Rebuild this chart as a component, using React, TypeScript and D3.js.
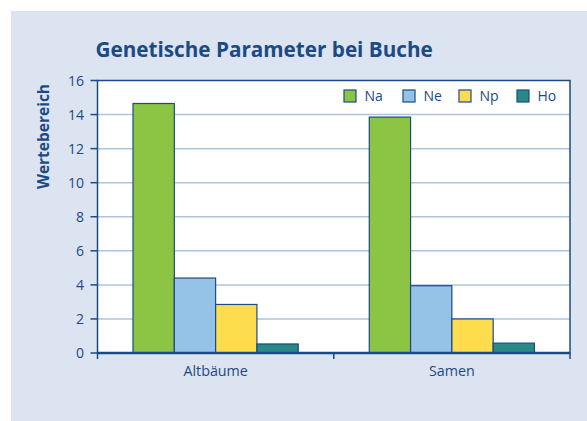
import React from "react";
import * as d3 from "d3";

const categories = ["Altbäume", "Samen"];
const seriesNames = ["Na", "Ne", "Np", "Ho"];
const naValues = [14.65, 13.85];
const neValues = [4.4, 3.95];
const npValues = [2.85, 2.0];
const hoValues = [0.53, 0.58];
const yTicks = [0, 2, 4, 6, 8, 10, 12, 14, 16];

const seriesValues = [naValues, neValues, npValues, hoValues];
const colors = ["#8cc544", "#95c3e8", "#fddd4e", "#2a8887"];
const dark = "#1b4b85";
const font = "'Open Sans', 'Noto Sans', sans-serif";

export default function App() {
  const width = 587;
  const height = 421;
  const margin = { top: 80.5, right: 17, bottom: 68, left: 97.5 };
  const plotW = width - margin.left - margin.right;
  const plotH = height - margin.top - margin.bottom;

  const x0 = d3.scaleBand().domain(categories).range([0, plotW]).padding(0);
  const x1 = d3
    .scaleBand()
    .domain(seriesNames)
    .range([0, x0.bandwidth()])
    .paddingInner(0)
    .paddingOuter(0.86);
  const y = d3.scaleLinear().domain([0, 16]).range([plotH, 0]);

  // legend entry offsets from the first square
  const legendOffsets = [0, 59, 115, 173];

  return (
    <div style={{ position: "absolute", left: 0, top: 0 }}>
      <svg width={width} height={height} style={{ display: "block" }}>
        <rect x={11} y={11} width={width - 11} height={height - 11} fill="#dce3f1" />
        <text x={95.5} y={57.3} fill={dark} fontFamily={font} fontWeight="bold" fontSize={20.7}>
          Genetische Parameter bei Buche
        </text>
        <text
          transform={`translate(48.5,136.5) rotate(-90)`}
          textAnchor="middle"
          fill={dark}
          fontFamily={font}
          fontWeight="bold"
          fontSize={15.5}
        >
          Wertebereich
        </text>
        <g transform={`translate(${margin.left},${margin.top})`}>
          <rect x={0} y={0} width={plotW} height={plotH} fill="#ffffff" />
          {yTicks.map((t) => (
            <g key={t}>
              {t > 0 && t < 16 && (
                <line x1={0} x2={plotW} y1={y(t)} y2={y(t)} stroke="#adc4e2" strokeWidth={1.5} />
              )}
              <line x1={-7} x2={0} y1={y(t)} y2={y(t)} stroke={dark} strokeWidth={1.5} />
              <text
                x={-13.5}
                y={y(t)}
                dy="0.36em"
                textAnchor="end"
                fill={dark}
                fontFamily={font}
                fontSize={14}
              >
                {t}
              </text>
            </g>
          ))}
          {categories.map((c, ci) => (
            <g key={c} transform={`translate(${x0(c)},0)`}>
              {seriesNames.map((s, si) => {
                const v = seriesValues[si][ci];
                return (
                  <rect
                    key={s}
                    x={x1(s)}
                    y={y(v)}
                    width={x1.bandwidth()}
                    height={plotH - y(v)}
                    fill={colors[si]}
                    stroke={dark}
                    strokeWidth={1.2}
                  />
                );
              })}
              <text
                x={x0.bandwidth() / 2}
                y={plotH + 23}
                textAnchor="middle"
                fill={dark}
                fontFamily={font}
                fontSize={14.3}
              >
                {c}
              </text>
            </g>
          ))}
          <rect x={0} y={0} width={plotW} height={plotH} fill="none" stroke={dark} strokeWidth={1.5} />
          <line x1={0} x2={plotW} y1={plotH} y2={plotH} stroke={dark} strokeWidth={2.5} />
          {[0, x0.bandwidth(), plotW].map((px, i) => (
            <line key={i} x1={px} x2={px} y1={plotH} y2={plotH + 6} stroke={dark} strokeWidth={1.5} />
          ))}
          <g transform={`translate(${344 - margin.left},15.5)`}>
            {seriesNames.map((s, i) => (
              <g key={s} transform={`translate(${legendOffsets[i]},0)`}>
                <rect x={0} y={-6} width={12} height={12} fill={colors[i]} stroke={dark} strokeWidth={1.2} />
                <text x={20.5} y={0} dy="0.36em" fill={dark} fontFamily={font} fontSize={14}>
                  {s}
                </text>
              </g>
            ))}
          </g>
        </g>
      </svg>
    </div>
  );
}
